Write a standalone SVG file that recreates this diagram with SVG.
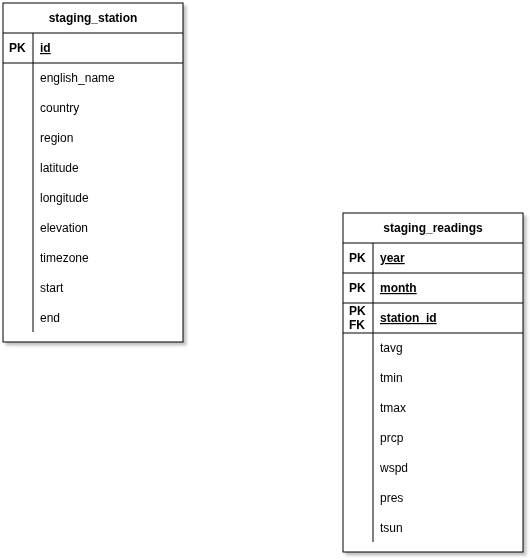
<svg xmlns="http://www.w3.org/2000/svg" width="530" height="560" viewBox="0 0 530 560">
<defs>
<filter id="sh" x="-10%" y="-10%" width="120%" height="120%">
<feGaussianBlur in="SourceAlpha" stdDeviation="1.5"/>
<feOffset dx="3" dy="3" result="b"/>
<feFlood flood-color="#000" flood-opacity="0.25"/>
<feComposite in2="b" operator="in"/>
<feMerge><feMergeNode/><feMergeNode in="SourceGraphic"/></feMerge>
</filter>
</defs>
<style>
rect{fill:#fff;stroke:#000;stroke-width:1}
line{stroke:#000;stroke-width:1}
text{font-family:"Liberation Sans",Arial,sans-serif;font-size:12px;fill:#000}
.h{font-weight:bold;text-anchor:middle}
.k{font-weight:bold}
.u{font-weight:bold;text-decoration:underline}
</style>
<rect width="530" height="560" style="fill:#fff;stroke:none"/>
<g id="staging_station" filter="url(#sh)">
<rect x="3" y="3" width="180" height="339"/>
<line x1="3" y1="33" x2="183" y2="33"/>
<line x1="3" y1="63" x2="183" y2="63"/>
<line x1="33" y1="33" x2="33" y2="332"/>
<text class="h" x="93" y="22">staging_station</text>
<text class="k" x="9" y="52">PK</text>
<text class="u" x="40" y="52">id</text>
<text x="40" y="82">english_name</text>
<text x="40" y="112">country</text>
<text x="40" y="142">region</text>
<text x="40" y="172">latitude</text>
<text x="40" y="202">longitude</text>
<text x="40" y="232">elevation</text>
<text x="40" y="262">timezone</text>
<text x="40" y="292">start</text>
<text x="40" y="322">end</text>
</g>
<g id="staging_readings" filter="url(#sh)">
<rect x="343" y="213" width="180" height="339"/>
<line x1="343" y1="243" x2="523" y2="243"/>
<line x1="343" y1="273" x2="523" y2="273"/>
<line x1="343" y1="303" x2="523" y2="303"/>
<line x1="343" y1="333" x2="523" y2="333"/>
<line x1="373" y1="243" x2="373" y2="542"/>
<text class="h" x="433" y="232">staging_readings</text>
<text class="k" x="349" y="262">PK</text>
<text class="u" x="380" y="262">year</text>
<text class="k" x="349" y="292">PK</text>
<text class="u" x="380" y="292">month</text>
<text class="k" x="349" y="315">PK</text>
<text class="k" x="349" y="329">FK</text>
<text class="u" x="380" y="322">station_id</text>
<text x="380" y="352">tavg</text>
<text x="380" y="382">tmin</text>
<text x="380" y="412">tmax</text>
<text x="380" y="442">prcp</text>
<text x="380" y="472">wspd</text>
<text x="380" y="502">pres</text>
<text x="380" y="532">tsun</text>
</g>
<g id="connectors"/>
</svg>
